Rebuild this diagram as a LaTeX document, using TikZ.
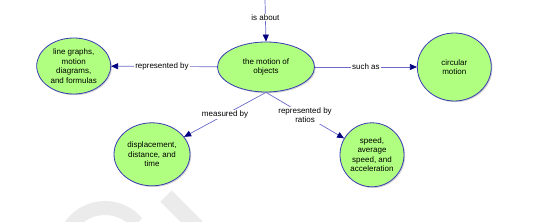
\documentclass[tikz,border=0pt]{standalone}
\usepackage{fontspec}
\setmainfont{Liberation Sans}
\usetikzlibrary{positioning,arrows.meta,shapes.geometric,shadows}
\definecolor{lima}{HTML}{B0FF80}
\definecolor{borde}{HTML}{3A3AB4}
\definecolor{linea}{HTML}{6A6AC8}
\definecolor{punta}{HTML}{000080}
\definecolor{marca}{HTML}{EBEBEB}

\begin{document}
\begin{tikzpicture}[
  x=1pt, y=-1pt,
  node distance=30pt and 100pt,
  concepto/.style={ellipse, draw=borde, fill=lima, line width=0.8pt, align=center, inner sep=0pt,
    font=\fontsize{8}{9.5}\selectfont,
    drop shadow={shadow xshift=1.2pt, shadow yshift=-1.2pt, opacity=0.35}},
  flecha/.style={-{Triangle[length=7pt, width=6pt, color=punta]}, draw=linea, line width=0.7pt},
  etq/.style={font=\fontsize{8}{9.5}\selectfont, fill=white, inner sep=1pt, align=center}
]
\useasboundingbox (0,0) rectangle (544,222);

% watermark
\draw[marca, line width=14pt] (63,250) arc[start angle=180, end angle=320, radius=42];
\draw[marca, line width=16pt] (166,196) -- (200,230);

\node[concepto, minimum width=97pt, minimum height=50pt] (motion) at (266,67) {the motion of\\objects};
\node[concepto, minimum width=74pt, minimum height=56pt, left=106pt of motion, yshift=1pt] (graphs) {line graphs,\\motion\\diagrams,\\and formulas};
\node[concepto, minimum width=74pt, minimum height=68pt, right=102pt of motion] (circular) {circular\\motion};
\node[concepto, minimum width=76pt, minimum height=63pt, below=30pt of motion, xshift=-114pt] (disp) {displacement,\\distance, and\\time};
\node[concepto, minimum width=64pt, minimum height=64pt, below=30pt of motion, xshift=106pt] (speed) {speed,\\average\\speed, and\\acceleration};

\coordinate (top) at (265,0);

\draw[flecha] (top) -- node[etq, pos=0.42] {is about} (motion.north);
\draw[flecha] (motion) -- node[etq, pos=0.52] {represented by} (graphs);
\draw[flecha] (motion) -- node[etq, pos=0.5] {such as} (circular);
\draw[flecha] (motion.south) -- node[etq, pos=0.5] {measured by} (disp);
\draw[flecha] (motion.south) -- node[etq, pos=0.5] {represented by\\ratios} (speed);
\end{tikzpicture}
\end{document}
